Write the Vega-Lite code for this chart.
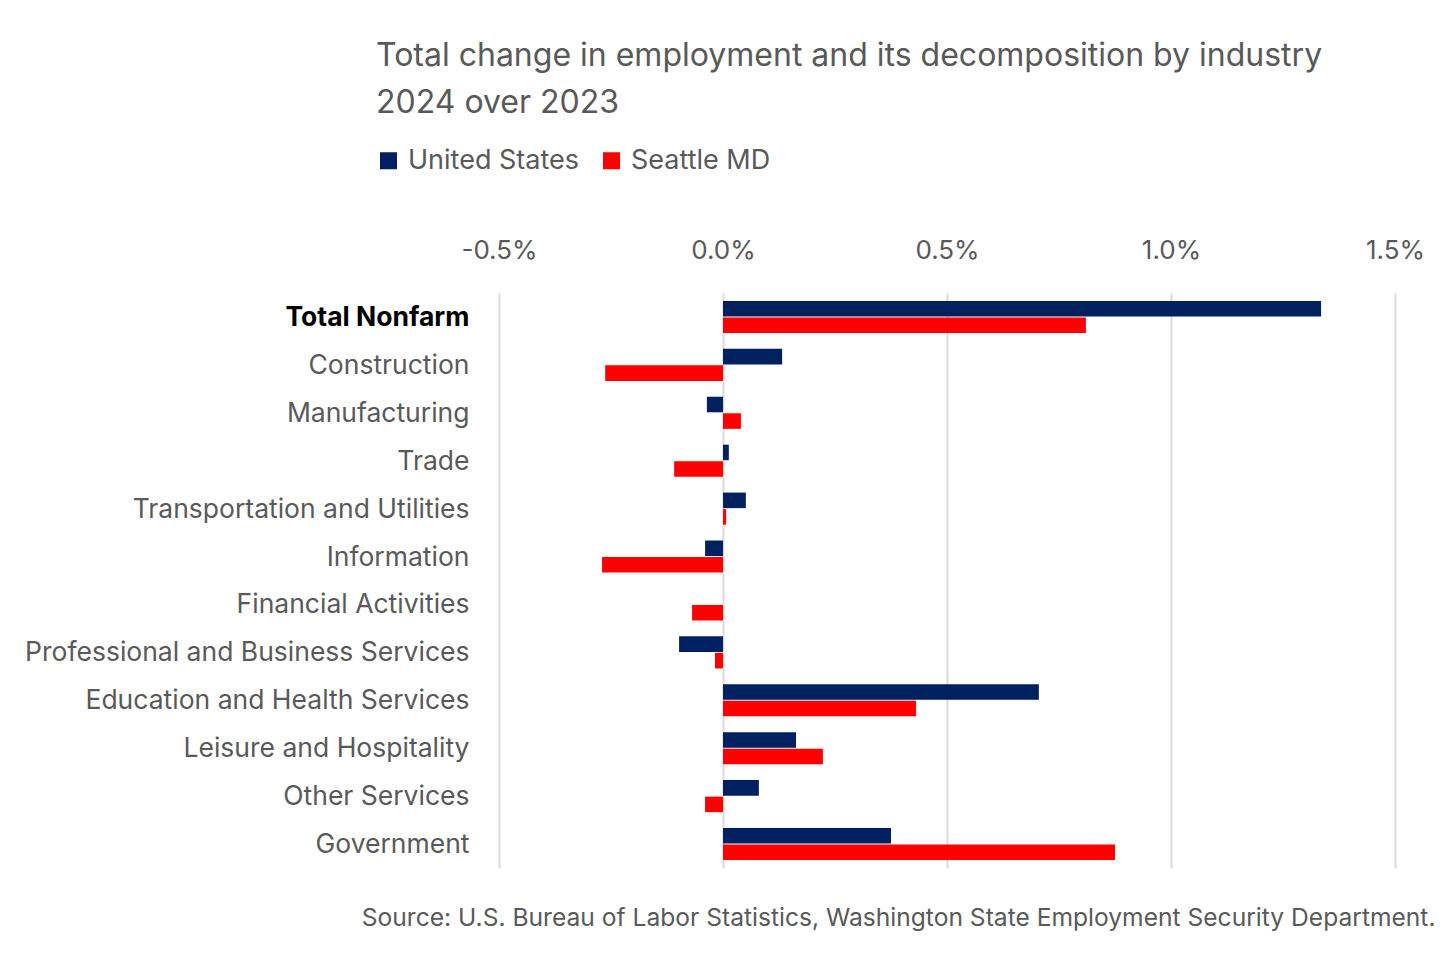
{
  "$schema": "https://vega.github.io/schema/vega-lite/v6.json",
  "width": 896,
  "height": 575,
  "autosize": "none",
  "padding": {"left": 499, "top": 293, "right": 60, "bottom": 91},
  "background": "white",
  "config": {
    "font": "Inter",
    "view": {"stroke": null}
  },
  "title": {
    "text": ["Total change in employment and its decomposition by industry", "2024 over 2023"],
    "fontSize": 32,
    "lineHeight": 47,
    "font": "Inter",
    "fontWeight": "normal",
    "color": "#595959",
    "anchor": "start",
    "frame": "group",
    "dx": -123,
    "offset": 27
  },
  "data": {
    "values": [
      {"industry": "Total Nonfarm", "region": "United States", "value": 0.01335},
      {"industry": "Total Nonfarm", "region": "Seattle MD", "value": 0.0081},
      {"industry": "Construction", "region": "United States", "value": 0.00132},
      {"industry": "Construction", "region": "Seattle MD", "value": -0.00263},
      {"industry": "Manufacturing", "region": "United States", "value": -0.00036},
      {"industry": "Manufacturing", "region": "Seattle MD", "value": 0.0004},
      {"industry": "Trade", "region": "United States", "value": 0.00013},
      {"industry": "Trade", "region": "Seattle MD", "value": -0.00109},
      {"industry": "Transportation and Utilities", "region": "United States", "value": 0.00051},
      {"industry": "Transportation and Utilities", "region": "Seattle MD", "value": 0.00007},
      {"industry": "Information", "region": "United States", "value": -0.0004},
      {"industry": "Information", "region": "Seattle MD", "value": -0.0027},
      {"industry": "Financial Activities", "region": "United States", "value": 0.0},
      {"industry": "Financial Activities", "region": "Seattle MD", "value": -0.00069},
      {"industry": "Professional and Business Services", "region": "United States", "value": -0.00098},
      {"industry": "Professional and Business Services", "region": "Seattle MD", "value": -0.00018},
      {"industry": "Education and Health Services", "region": "United States", "value": 0.00705},
      {"industry": "Education and Health Services", "region": "Seattle MD", "value": 0.00431},
      {"industry": "Leisure and Hospitality", "region": "United States", "value": 0.00163},
      {"industry": "Leisure and Hospitality", "region": "Seattle MD", "value": 0.00223},
      {"industry": "Other Services", "region": "United States", "value": 0.0008},
      {"industry": "Other Services", "region": "Seattle MD", "value": -0.0004},
      {"industry": "Government", "region": "United States", "value": 0.00375},
      {"industry": "Government", "region": "Seattle MD", "value": 0.00875}
    ]
  },
  "layer": [
    {
      "mark": {"type": "bar"},
      "encoding": {
        "y": {
          "field": "industry",
          "type": "nominal",
          "sort": null,
          "scale": {"paddingInner": 0.33, "paddingOuter": 0.165},
          "axis": {
            "title": null,
            "ticks": false,
            "domain": false,
            "grid": false,
            "labelFontSize": 26.5,
            "labelLimit": 0,
            "labelPadding": 30,
            "labelOffset": 1,
            "labelColor": {"condition": {"test": "datum.value === 'Total Nonfarm'", "value": "#000000"}, "value": "#595959"},
            "labelFontWeight": {"condition": {"test": "datum.value === 'Total Nonfarm'", "value": "bold"}, "value": "normal"}
          }
        },
        "yOffset": {
          "field": "region",
          "type": "nominal",
          "sort": ["United States", "Seattle MD"],
          "scale": {"paddingInner": 0.06}
        },
        "x": {
          "field": "value",
          "type": "quantitative",
          "scale": {"domain": [-0.005, 0.015], "nice": false, "zero": false},
          "axis": {
            "orient": "top",
            "title": null,
            "format": ".1%",
            "labelExpr": "replace(format(datum.value, '.1%'), '\u2212', '-')",
            "values": [-0.005, 0, 0.005, 0.01, 0.015],
            "ticks": false,
            "domain": false,
            "grid": true,
            "gridColor": "#d9d9d9",
            "gridWidth": 2,
            "labelFontSize": 26,
            "labelColor": "#595959",
            "labelPadding": 30,
            "labelFlush": false
          }
        },
        "color": {
          "field": "region",
          "type": "nominal",
          "scale": {"domain": ["United States", "Seattle MD"], "range": ["#002060", "#FF0000"]},
          "legend": {
            "title": null,
            "orient": "none",
            "legendX": -124,
            "legendY": -146,
            "direction": "horizontal",
            "symbolType": "square",
            "symbolSize": 289,
            "symbolStrokeWidth": 0,
            "labelFontSize": 27,
            "labelLimit": 0,
            "labelColor": "#595959",
            "labelOffset": 6,
            "columnPadding": 18
          }
        }
      }
    },
    {
      "mark": {"type": "rule", "opacity": 0},
      "encoding": {
        "x": {
          "datum": 0,
          "type": "quantitative",
          "scale": {"domain": [-0.005, 0.015], "nice": false, "zero": false},
          "axis": {
            "orient": "bottom",
            "title": "Source: U.S. Bureau of Labor Statistics, Washington State Employment Security Department.",
            "titleFontSize": 24.6,
            "titleFontWeight": "normal",
            "titleColor": "#595959",
            "titleAnchor": "end",
            "titleAlign": "right",
            "titleBaseline": "alphabetic",
            "titleX": 936,
            "titleY": 57,
            "titleLimit": 0,
            "labels": false,
            "ticks": false,
            "domain": false,
            "grid": false
          }
        }
      }
    }
  ],
  "resolve": {"axis": {"x": "independent"}}
}
